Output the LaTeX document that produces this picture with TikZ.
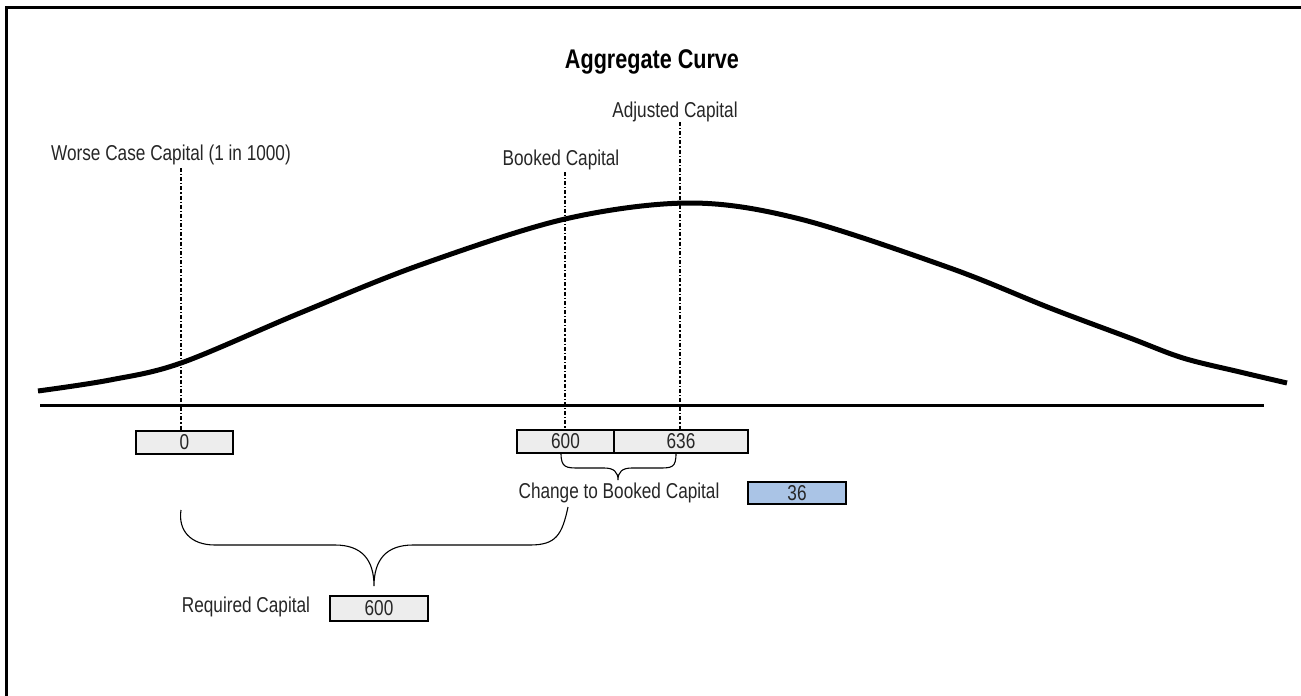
\documentclass[tikz,border=0pt]{standalone}
\usepackage{fontspec}
\setmainfont{Liberation Sans}[FakeStretch=0.8]
\definecolor{boxblue}{RGB}{170,196,230}
\begin{document}
\begin{tikzpicture}[x=1pt,y=-1pt,
  lbl/.style={inner sep=0pt, font=\fontsize{21.5}{24}\selectfont, text=black!85},
  valbox/.style={draw, line width=1.4pt, fill=black!7, inner sep=0pt, font=\fontsize{21.5}{24}\selectfont, text=black!85},
  bluebox/.style={valbox, fill=boxblue},
  ddot/.style={line width=1.6pt, dash pattern=on 4pt off 2pt on 1.2pt off 2pt},
  brace/.style={line width=1.1pt}]
\useasboundingbox (0,0) rectangle (1301,696);
% frame
\draw[line width=3pt] (6,696) -- (6,7) -- (1301,7);
% title
\node[inner sep=0pt, font=\fontsize{27}{30}\selectfont\bfseries] (title) at (652,62) {Aggregate Curve};
% axis
\coordinate (axL) at (40,405.5);
\coordinate (axR) at (1264,405.5);
\draw[line width=3pt] (axL) -- (axR);
% curve
\draw[line width=5pt] plot[smooth, tension=0.55] coordinates {(38,391) (110,380) (181,363) (300,313) (420,265) (565,219) (690,203) (800,219) (950,268) (1050,308) (1130,338) (1183,358) (1240,372) (1287,383)};
% labels
\node[lbl] (wcl) at (171,155) {Worse Case Capital (1 in 1000)};
\node[lbl] (bkl) at (561,160) {Booked Capital};
\node[lbl] (adl) at (675,112) {Adjusted Capital};
% boxes
\node[valbox, minimum width=97pt, minimum height=23pt] (b0) at (184.5,442.5) {0};
\node[valbox, minimum width=97pt, minimum height=23pt] (b600) at (565.5,441.5) {600};
\node[valbox, minimum width=134pt, minimum height=23pt] (b636) at (681,441.5) {636};
\node[lbl] (chg) at (619,493) {Change to Booked Capital};
\node[bluebox, minimum width=98pt, minimum height=22pt] (b36) at (797,493) {36};
\node[lbl] (req) at (246,607) {Required Capital};
\node[valbox, minimum width=98pt, minimum height=25pt] (breq) at (379,608.5) {600};
% dash-dot lines
\coordinate (wcT) at (181,168);
\coordinate (wcB) at (181,431);
\coordinate (bkT) at (565,172);
\coordinate (bkB) at (565,430);
\coordinate (adT) at (680,122);
\coordinate (adB) at (680,430);
\draw[ddot] (wcT) -- (wcB);
\draw[ddot] (bkT) -- (bkB);
\draw[ddot] (adT) -- (adB);
% small brace
\coordinate (sbL) at (561,453);
\coordinate (sbR) at (676,453);
\coordinate (sbT) at (618,480);
\draw[brace] (sbL) .. controls (561,468) and (566,468) .. (580,468) -- (604,468) .. controls (614,468) and (618,472) .. (sbT)
  .. controls (618,472) and (622,468) .. (632,468) -- (658,468) .. controls (672,468) and (676,468) .. (sbR);
% big brace
\coordinate (bbL) at (181,510);
\coordinate (bbR) at (568,507);
\coordinate (bbT) at (374,586);
\draw[brace] (bbL) .. controls (178,530) and (190,545) .. (215,545) -- (335,545) .. controls (362,545) and (374,560) .. (bbT)
  .. controls (374,560) and (386,545) .. (413,545) -- (530,545) .. controls (556,545) and (562,535) .. (bbR);
\end{tikzpicture}
\end{document}
